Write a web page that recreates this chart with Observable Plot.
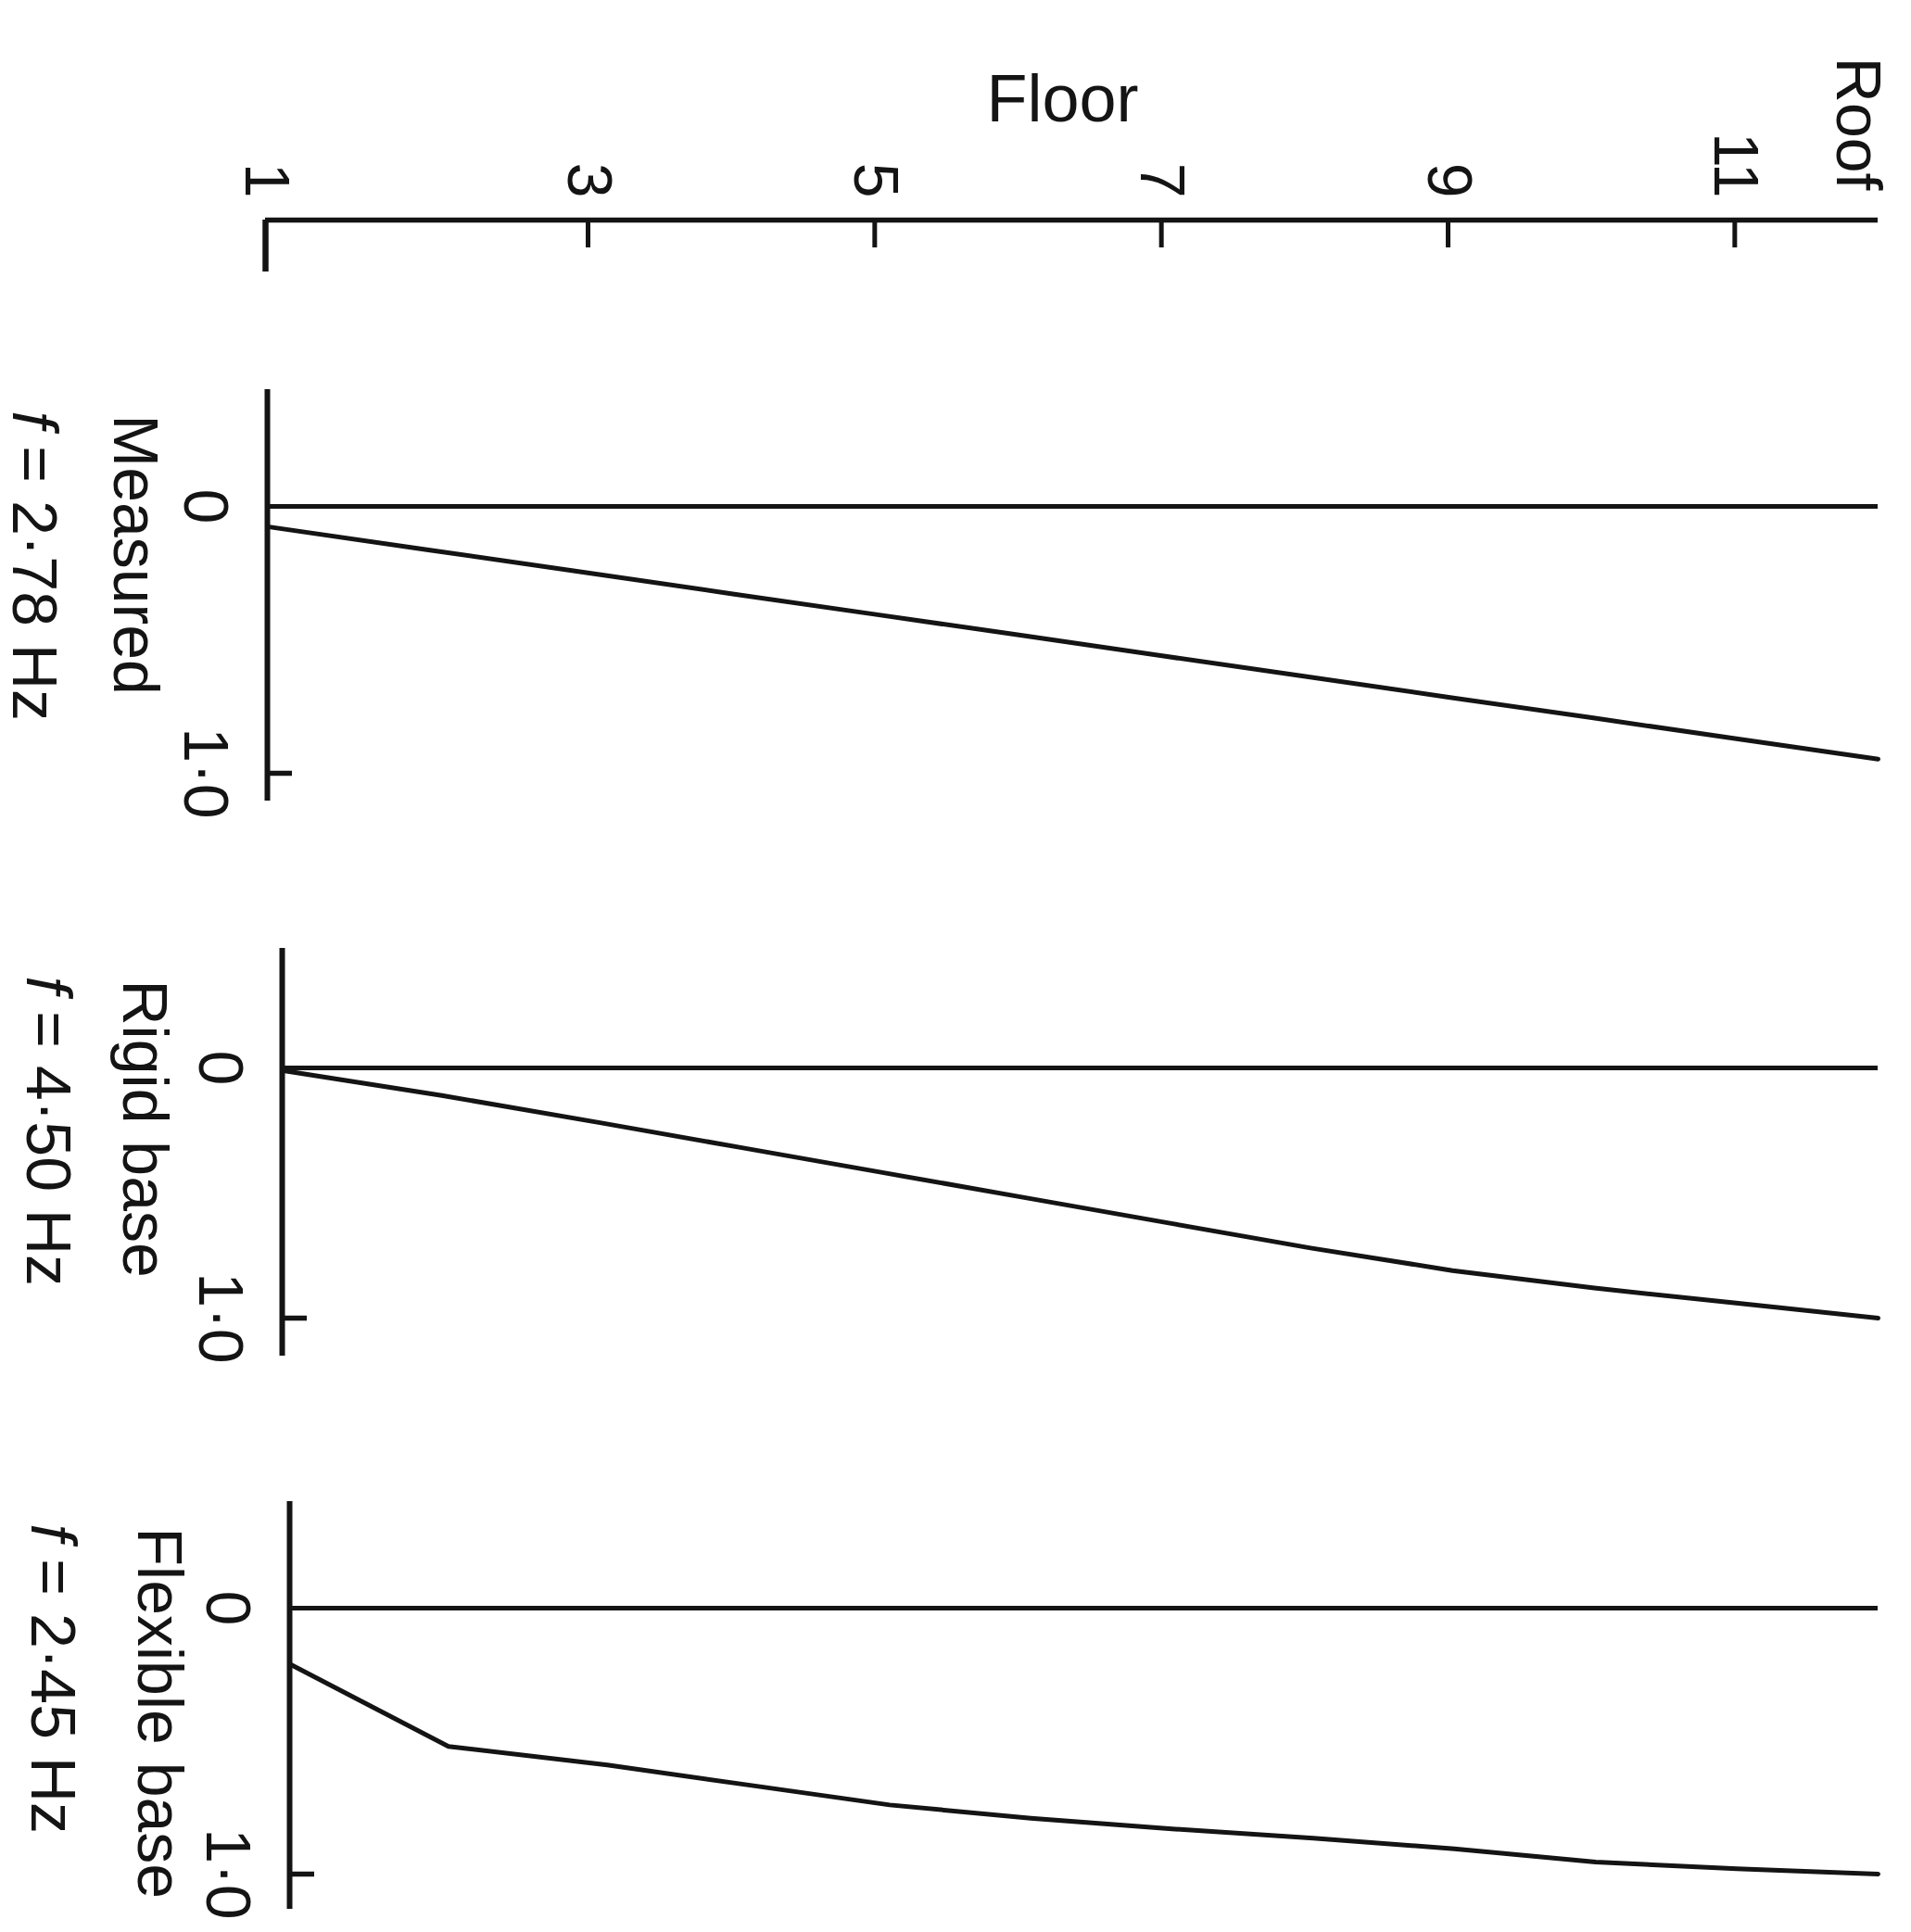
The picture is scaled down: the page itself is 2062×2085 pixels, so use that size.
<!DOCTYPE html>
<html>
<head>
<meta charset="utf-8">
<script src="https://cdn.jsdelivr.net/npm/d3@7"></script>
<script src="https://cdn.jsdelivr.net/npm/@observablehq/plot@0.6"></script>
<style>
  html, body { margin: 0; padding: 0; background: #ffffff; overflow: hidden; }
  #chart { position: relative; width: 2062px; height: 2085px; background: #ffffff; }
  #chart > svg { position: absolute; left: 0; }
</style>
</head>
<body>
<div id="chart"></div>
<script>
// ---------------- data ----------------
const floors = [1, 2, 3, 4, 5, 6, 7, 8, 9, 10, 11, 12];
const floorTicks = [1, 3, 5, 7, 9, 11];
const floorTickLabels = ["1", "3", "5", "7", "9", "11"];
const roofFloor = [12];
const roofLabel = ["Roof"];
const axisTitle = "Floor";

const panelNames = ["Measured", "Rigid base", "Flexible base"];
const panelFreqs = ["f = 2·78 Hz", "f = 4·50 Hz", "f = 2·45 Hz"];

// normalised mode-shape amplitude per floor (1 … Roof)
const measured     = [0.076, 0.163, 0.250, 0.328, 0.405, 0.482, 0.560, 0.637, 0.715, 0.792, 0.870, 0.947];
const rigidBase    = [0.01, 0.11, 0.22, 0.32, 0.42, 0.52, 0.62, 0.72, 0.81, 0.88, 0.94, 1.00];
const flexibleBase = [0.21, 0.52, 0.59, 0.665, 0.74, 0.79, 0.83, 0.865, 0.905, 0.955, 0.98, 1.00];

const yTicks = [0, 1];
const yTickLabels = ["0", "1·0"];

// ---------------- layout ----------------
const W = 2062;
const xEnd = 2026;
const ink = "#141414";
const font = "'Liberation Sans', Arial, Helvetica, sans-serif";
const fs = 68;
const chart = document.getElementById("chart");

// the printed floor axis is not uniform: the 1–3 interval is drawn wider than the others
const floorSpacing = f => (f <= 3 ? (f - 1) * 1.125 : 2.25 + (f - 3));
const xOpts = {transform: floorSpacing, axis: null};

function place(svg, top) {
  svg.style.top = top + "px";
  chart.appendChild(svg);
}

// ---- top floor axis ----
{
  const mTop = 237, H = 320;
  const svg = Plot.plot({
    width: W, height: H,
    marginTop: mTop, marginBottom: 20, marginLeft: 286, marginRight: W - xEnd,
    style: {background: "transparent", fontFamily: font, fontSize: fs + "px", color: ink, overflow: "visible"},
    x: xOpts,
    y: {domain: [0, 1], reverse: true, axis: null},
    marks: [
      Plot.ruleY([0], {x1: floors[0], x2: floors[floors.length - 1], stroke: ink, strokeWidth: 5.5}),
      // axis tick values are given in the scale's transformed space
      Plot.axisX({anchor: "bottom", frameAnchor: "top", ticks: floorTicks.slice(1).map(floorSpacing), tickSize: 30,
                  tickFormat: () => "", label: null, stroke: ink, strokeWidth: 5}),
      Plot.axisX({anchor: "bottom", frameAnchor: "top", ticks: floorTicks.slice(0, 1).map(floorSpacing), tickSize: 56,
                  tickFormat: () => "", label: null, stroke: ink, strokeWidth: 6.5}),
      Plot.text(floorTicks, {x: d => d, text: (d, i) => floorTickLabels[i], frameAnchor: "top",
                  rotate: 90, textAnchor: "end", lineAnchor: "middle", dy: -24, fill: ink, fontSize: fs}),
      Plot.text(roofFloor, {x: d => d, text: (d, i) => roofLabel[i], frameAnchor: "top",
                  rotate: 90, textAnchor: "end", lineAnchor: "middle", dy: -32, dx: -23, fill: ink, fontSize: fs}),
      Plot.text([axisTitle], {frameAnchor: "top", dx: -10, dy: -130, lineAnchor: "middle", fill: ink, fontSize: 72})
    ]
  });
  place(svg, 0);
}

// ---- three mode-shape panels ----
const panelSeries = [measured, rigidBase, flexibleBase];
const panelLayout = [
  {top: 420,  bottom: 864,  axisX: 288, zero: 546,  one: 834,  nameDx: -144, freqDx: -253, dy: 27},
  {top: 1023, bottom: 1463, axisX: 304, zero: 1152, one: 1422, nameDx: -150, freqDx: -254, dy: 34},
  {top: 1620, bottom: 2060, axisX: 312, zero: 1735, one: 2022, nameDx: -142, freqDx: -257, dy: 28}
];

panelSeries.forEach((values, p) => {
  const L = panelLayout[p];
  const rows = floors.map((f, i) => ({floor: f, value: values[i]}));
  const mT = 40;
  const mB = p === 2 ? 2085 - L.bottom : 40;
  const H = (L.bottom - L.top) + mT + mB;
  const u = L.one - L.zero;
  const svg = Plot.plot({
    width: W, height: H,
    marginTop: mT, marginBottom: mB, marginLeft: L.axisX, marginRight: W - xEnd,
    style: {background: "transparent", fontFamily: font, fontSize: fs + "px", color: ink, overflow: "visible"},
    x: xOpts,
    y: {domain: [(L.top - L.zero) / u, (L.bottom - L.zero) / u], reverse: true},
    marks: [
      Plot.ruleX([floors[0]], {stroke: ink, strokeWidth: 6}),
      Plot.ruleY([0], {x1: floors[0], x2: floors[floors.length - 1], stroke: ink, strokeWidth: 5}),
      Plot.axisY({anchor: "right", frameAnchor: "left", ticks: yTicks.slice(1), tickSize: 26,
                  tickFormat: () => "", label: null, stroke: ink, strokeWidth: 5.5}),
      Plot.text(yTicks, {y: d => d, text: (d, i) => yTickLabels[i], frameAnchor: "left", dx: -68,
                  rotate: 90, textAnchor: "middle", lineAnchor: "middle", fill: ink, fontSize: fs}),
      Plot.line(rows, {x: "floor", y: "value", stroke: ink, strokeWidth: 5, strokeLinejoin: "round"}),
      Plot.text([panelNames[p]], {frameAnchor: "top-left", dx: L.nameDx, dy: L.dy,
                  rotate: 90, textAnchor: "start", lineAnchor: "middle", fill: ink, fontSize: fs}),
      Plot.text([panelFreqs[p]], {frameAnchor: "top-left", dx: L.freqDx, dy: L.dy - 4,
                  rotate: 90, textAnchor: "start", lineAnchor: "middle", fill: ink, fontSize: fs})
    ]
  });
  // italic frequency symbol
  svg.querySelectorAll("text").forEach(t => {
    if (t.children.length === 0 && t.textContent.startsWith("f = ")) {
      const rest = t.textContent.slice(1);
      t.textContent = "";
      const ts = document.createElementNS("http://www.w3.org/2000/svg", "tspan");
      ts.setAttribute("font-style", "italic");
      ts.textContent = "f";
      t.appendChild(ts);
      t.appendChild(document.createTextNode(rest));
    }
  });
  place(svg, L.top - mT);
});
</script>
</body>
</html>
